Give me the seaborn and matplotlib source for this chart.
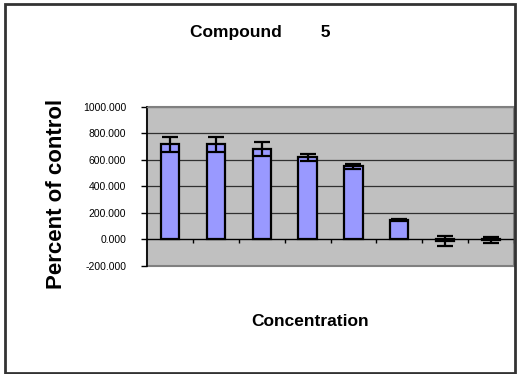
import matplotlib
matplotlib.use("Agg")
import matplotlib.pyplot as plt
from matplotlib.patches import Rectangle
import seaborn as sns
import pandas as pd

# Percent-of-control response for each concentration step
concentrations = ["c1", "c2", "c3", "c4", "c5", "c6", "c7", "c8"]
percent_of_control = [716, 716, 680, 618, 550, 145, -12, -6]
error = [57, 55, 50, 28, 17, 8, 36, 25]
y_ticks = [-200, 0, 200, 400, 600, 800, 1000]

df = pd.DataFrame({"conc": concentrations, "pct": percent_of_control, "err": error})

sns.set_theme(style="white")
fonts = ["Liberation Sans", "DejaVu Sans"]
plt.rcParams["font.family"] = fonts
plt.rcParams["text.color"] = "black"
plt.rcParams["ytick.color"] = "black"
plt.rcParams["ytick.labelcolor"] = "black"

W, H = 517, 374
fig = plt.figure(figsize=(W / 100, H / 100), dpi=100)
ax = fig.add_axes([147 / W, (H - 265.8) / H, (514 - 147) / W, (265.8 - 106.7) / H])
ax.set_facecolor("#c0c0c0")

sns.barplot(data=df, x="conc", y="pct", ax=ax, color="#9999ff", saturation=1,
            width=0.4, edgecolor="black", linewidth=1.6, errorbar=None, zorder=3)
ax.errorbar(range(len(df)), df["pct"], yerr=df["err"], fmt="none", ecolor="black",
            elinewidth=1.6, capsize=6, capthick=1.6, zorder=4)

ax.set_xlim(-0.5, len(df) - 0.5)
ax.set_ylim(-200, 1000)
ax.set_yticks(y_ticks)
ax.set_yticklabels([f"{v:.3f}" for v in y_ticks], fontsize=7.5, color="black")
for v in y_ticks[2:-1]:
    ax.axhline(v, color="#303030", lw=0.9, zorder=1)

# category boundary ticks on the zero line
ax.set_xticks([i + 0.5 for i in range(len(df))])
ax.set_xticklabels([])
ax.set_xlabel("")
ax.set_ylabel("")
ax.spines["bottom"].set_position(("data", 0))
ax.spines["bottom"].set_color("black")
ax.spines["bottom"].set_linewidth(1.0)
ax.spines["bottom"].set_zorder(2)
ax.spines["left"].set_color("black")
ax.spines["left"].set_linewidth(1.2)
for s in ("top", "right"):
    ax.spines[s].set_color("#808080")
    ax.spines[s].set_linewidth(1.0)
ax.add_patch(Rectangle((0, 0), 1, 1, transform=ax.transAxes, fill=False,
                       edgecolor="#808080", lw=1.5, zorder=0, clip_on=False))
ax.tick_params(axis="y", direction="out", length=4, width=1, pad=11, colors="black", left=True)
ax.tick_params(axis="x", direction="out", length=3, width=1, bottom=True, colors="black")

fig.text(260 / W, (H - 33) / H, "Compound        5", ha="center", va="center",
         fontsize=12.5, fontweight="bold", color="black")
fig.text(310 / W, (H - 321) / H, "Concentration", ha="center", va="center",
         fontsize=12.5, fontweight="bold", color="black")
fig.text(57 / W, (H - 194) / H, "Percent of control", ha="center", va="center",
         rotation=90, fontsize=16, fontweight="bold", color="black")

fig.patches.append(Rectangle((4.5 / W, 1.5 / H), (514.5 - 4.5) / W, (370 - 1.5) / H,
                             transform=fig.transFigure, fill=False,
                             edgecolor="#333333", lw=2))

fig.savefig("out.png", dpi=100)
